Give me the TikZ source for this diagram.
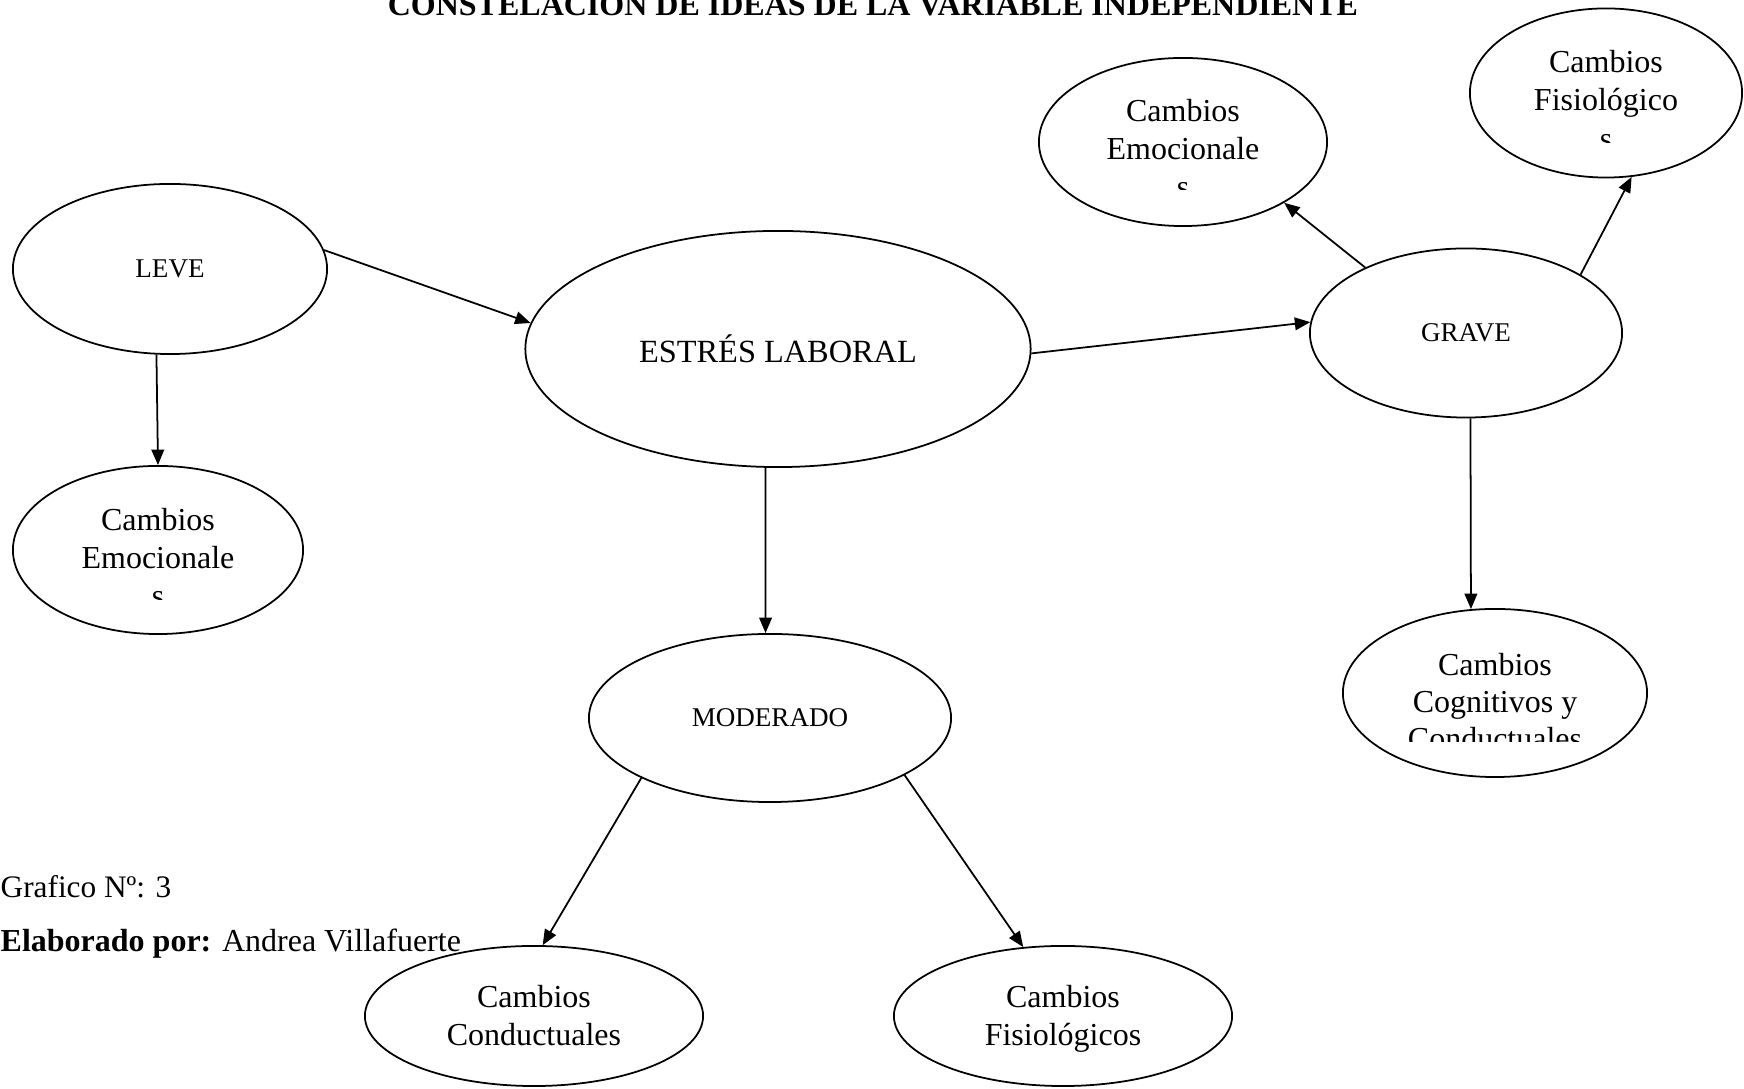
\documentclass[tikz,border=0pt]{standalone}
\usepackage{fontspec}
\setmainfont{Liberation Serif}
\usetikzlibrary{shapes.geometric,arrows.meta}

\tikzset{
  oval/.style={ellipse,draw,line width=0.5pt,inner sep=0pt},
  tag/.style={font=\fontsize{7.7}{9}\selectfont},
  lbl/.style={font=\fontsize{9.1}{10.8}\selectfont,anchor=base,inner sep=0pt},
  arr/.style={-{Triangle[length=4.4pt,width=3.6pt]},line width=0.5pt},
}

\begin{document}
\begin{tikzpicture}[x=0.01cm,y=-0.01cm]
\useasboundingbox (0,0) rectangle (1744,1089);

\node[font=\bfseries\fontsize{9.1}{10}\selectfont,anchor=base,inner sep=0pt] (titulo) at (873,16) {CONSTELACION DE IDEAS DE LA VARIABLE INDEPENDIENTE};

% ovals
\node[oval,tag,minimum width=3.14cm,minimum height=1.70cm] (leve) at (170,269) {LEVE};
\node[oval,font=\fontsize{9.2}{10.8}\selectfont,minimum width=5.05cm,minimum height=2.36cm] (estres) at (778,349) {ESTRÉS LABORAL};
\node[oval,tag,minimum width=3.12cm,minimum height=1.69cm] (grave) at (1466,333) {GRAVE};
\node[oval,tag,minimum width=3.62cm,minimum height=1.68cm] (moderado) at (770,718) {MODERADO};
\node[oval,minimum width=2.88cm,minimum height=1.68cm] (emoA) at (1183,142) {};
\node[oval,minimum width=2.72cm,minimum height=1.69cm] (fisA) at (1606,93) {};
\node[oval,minimum width=2.90cm,minimum height=1.68cm] (emoB) at (158,550) {};
\node[oval,minimum width=3.04cm,minimum height=1.68cm] (cogn) at (1495,693) {};
\node[oval,minimum width=3.38cm,minimum height=1.40cm] (cond) at (534,1016) {};
\node[oval,minimum width=3.38cm,minimum height=1.40cm] (fisB) at (1063,1016) {};

% texts in ovals
\node[lbl] (emoA1) at (1183,122) {Cambios};
\node[lbl] (emoA2) at (1183,160) {Emocionale};
\node[lbl] (fisA1) at (1606,73) {Cambios};
\node[lbl] (fisA2) at (1606,111) {Fisiológico};
\node[lbl] (emoB1) at (158,531) {Cambios};
\node[lbl] (emoB2) at (158,569) {Emocionale};
\node[lbl] (cogn1) at (1495,676) {Cambios};
\node[lbl] (cogn2) at (1495,713) {Cognitivos y};
\node[lbl] (cond1) at (534,1008) {Cambios};
\node[lbl] (cond2) at (534,1046) {Conductuales};
\node[lbl] (fisB1) at (1063,1008) {Cambios};
\node[lbl] (fisB2) at (1063,1046) {Fisiológicos};

% cut-off lines
\begin{scope}
\clip (1100,100) rectangle (1270,190);
\node[lbl] (emoA3) at (1183,198) {s};
\end{scope}
\begin{scope}
\clip (1520,60) rectangle (1700,143);
\node[lbl] (fisA3) at (1606,150) {s};
\end{scope}
\begin{scope}
\clip (70,500) rectangle (250,600);
\node[lbl] (emoB3) at (158,607) {s};
\end{scope}
\begin{scope}
\clip (1380,650) rectangle (1610,742);
\node[lbl] (cogn3) at (1495,750) {Conductuales};
\end{scope}

% arrows
\draw[arr] (leve.7) -- (estres.174);
\draw[arr] (leve.261) -- (emoB.north);
\draw[arr] (estres.-1) -- (grave.176);
\draw[arr] (grave.147) -- (emoA.-31);
\draw[arr] (grave.27) -- (fisA.-73);
\draw[arr] (grave.-87) -- (cogn.106);
\draw[arr] (estres.-96) -- (moderado.93);
\draw[arr] (moderado.205) -- (cond.83);
\draw[arr] (moderado.-23) -- (fisB.120);

\node[font=\fontsize{8.9}{10.8}\selectfont,anchor=base west,inner sep=0pt] (grafico) at (0,898) {Grafico Nº: 3};
\node[font=\fontsize{9.1}{10.8}\selectfont,anchor=base west,inner sep=0pt] (autor) at (0,952) {\textbf{Elaborado por:} Andrea Villafuerte};
\end{tikzpicture}
\end{document}
